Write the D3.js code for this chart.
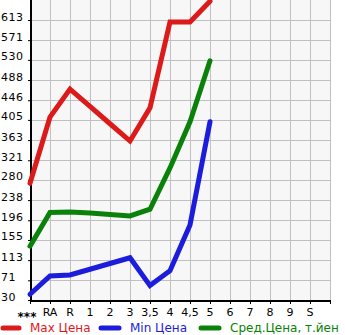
<!DOCTYPE html>
<html><head><meta charset="utf-8">
<script src="https://cdn.jsdelivr.net/npm/d3@7"></script>
<style>
html,body{margin:0;padding:0;background:#fff;}
svg{display:block;}
</style></head>
<body>
<svg id="c" width="345" height="335"></svg>
<script>
const categories = ["***","RA","R","1","2","3","3,5","4","4,5","5","6","7","8","9","S"];
const maxPrice = [273, 411, 469, 433, 397, 361, 430, 609, 609, 652, null, null, null, null, null];
const minPrice = [42, 80, 82, 94, 106, 118, 60, 91, 186, 401, null, null, null, null, null];
const avgPrice = [142, 212, 213, 211, 208, 205, 219, 305, 401, 528, null, null, null, null, null];
const yTicks = [30, 71, 113, 155, 196, 238, 280, 321, 363, 405, 446, 488, 530, 571, 613];
const seriesNames = ["Max Цена", "Min Цена", "Сред.Цена, т.йен"];
const colors = ["#dc1a1a", "#1c1cdc", "#0a820a"];

const svg = d3.select("#c");
const x = d3.scaleLinear().domain([0, categories.length]).range([30, 330]);
const y = d3.scaleLinear().domain([30, 613]).range([300, 20]);

svg.append("rect").attr("x", 30).attr("y", 0).attr("width", 300).attr("height", 300).attr("fill", "#f7f7f7");

const g = svg.append("g").attr("shape-rendering", "crispEdges");
d3.range(1, categories.length + 1).forEach(i => {
  g.append("line").attr("x1", x(i) + 0.5).attr("x2", x(i) + 0.5).attr("y1", 0).attr("y2", 300)
    .attr("stroke", "#c0c0c0").attr("stroke-width", 1);
});
yTicks.forEach(v => {
  g.append("line").attr("x1", 30).attr("x2", 330).attr("y1", Math.round(y(v)) + 0.5).attr("y2", Math.round(y(v)) + 0.5)
    .attr("stroke", "#c0c0c0").attr("stroke-width", 1);
});

const yAxis = d3.axisLeft(y).tickValues(yTicks).tickSize(3).tickFormat("");
svg.append("g").attr("transform", "translate(31,0)").call(yAxis)
  .call(s => s.select(".domain").remove())
  .call(s => s.selectAll("line").attr("stroke", "#000"));
svg.append("line").attr("x1", 31).attr("x2", 31).attr("y1", 0).attr("y2", 302).attr("stroke", "#000").attr("stroke-width", 2);

const xAxis = d3.axisBottom(x).tickValues(d3.range(0, categories.length + 1)).tickSize(3).tickFormat("");
svg.append("g").attr("transform", "translate(0,301)").call(xAxis)
  .call(s => s.select(".domain").remove())
  .call(s => s.selectAll("line").attr("stroke", "#000"));
svg.append("line").attr("x1", 30).attr("x2", 331).attr("y1", 301).attr("y2", 301).attr("stroke", "#000").attr("stroke-width", 2);

yTicks.forEach(v => {
  svg.append("text").attr("x", 1).attr("y", y(v) + 0.5)
    .attr("font-family", "DejaVu Sans, sans-serif").attr("font-size", 11)
    .attr("letter-spacing", 0.5)
    .attr("fill", "#000").text(v);
});
categories.forEach((c, i) => {
  svg.append("text").attr("x", x(i) + (i === 0 ? -3 : 0)).attr("y", c === "***" ? 321 : 316)
    .attr("text-anchor", "middle")
    .attr("font-family", "DejaVu Sans, sans-serif").attr("font-size", c === "***" ? 12 : 11)
    .attr("font-weight", c === "***" ? "bold" : "normal")
    .attr("fill", "#000").text(c);
});

const seriesData = [maxPrice, minPrice, avgPrice];
const line = d3.line().defined(d => d != null).x((d, i) => x(i)).y(d => y(d));
svg.append("clipPath").attr("id", "clip").append("rect").attr("x", 0).attr("y", 0).attr("width", 345).attr("height", 302);
seriesData.forEach((s, k) => {
  svg.append("path").datum(s).attr("d", line).attr("fill", "none")
    .attr("stroke", colors[k]).attr("stroke-width", 5)
    .attr("stroke-linejoin", "miter").attr("stroke-linecap", "round")
    .attr("clip-path", "url(#clip)");
});

const legendX = [[1, 21, 30], [99, 121, 130], [199, 221, 230]];
seriesNames.forEach((n, k) => {
  svg.append("line").attr("x1", legendX[k][0] + 2).attr("x2", legendX[k][1] - 2).attr("y1", 328).attr("y2", 328)
    .attr("stroke", colors[k]).attr("stroke-width", 5).attr("stroke-linecap", "round");
  svg.append("text").attr("x", legendX[k][2]).attr("y", 332)
    .attr("font-family", "DejaVu Sans, sans-serif").attr("font-size", 12)
    .attr("fill", colors[k]).text(n);
});
</script>
</body></html>
